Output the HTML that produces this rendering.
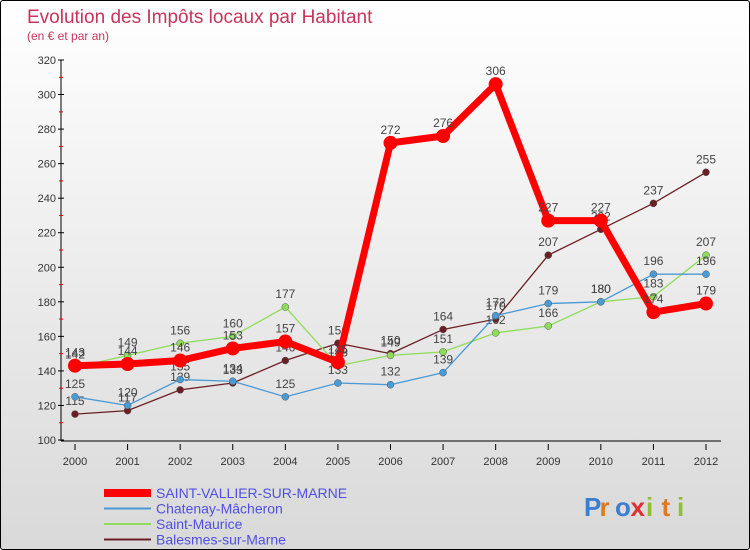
<!DOCTYPE html>
<html><head><meta charset="utf-8"><style>
body{margin:0}
#c{width:748px;height:548px;border:1px solid #000;position:relative;background:linear-gradient(#fff,#d9d9d9);font-family:"Liberation Sans",sans-serif;overflow:hidden;border-radius:3px}
</style></head><body>
<div id="c">
<svg id="s" width="748" height="548"></svg>
</div>
<script>
const years=[2000,2001,2002,2003,2004,2005,2006,2007,2008,2009,2010,2011,2012];
const saintVallier=[143,144,146,153,157,145,272,276,306,227,227,174,179];
const chatenay=[125,120,135,134,125,133,132,139,172,179,180,196,196];
const saintMaurice=[142,149,156,160,177,143,149,151,162,166,180,183,207];
const balesmes=[115,117,129,133,146,156,150,164,170,207,222,237,255];
const yTicks=[100,120,140,160,180,200,220,240,260,280,300,320];
const NS="http://www.w3.org/2000/svg";
const s=document.getElementById('s');
const X=i=>74+i*(705-74)/12;
const Y=v=>439-(v-100)*(380/220);
function el(t,a,p){const e=document.createElementNS(NS,t);for(const k in a)e.setAttribute(k,a[k]);(p||s).appendChild(e);return e;}
function tx(x,y,str,a){const e=el('text',Object.assign({x:x,y:y},a));e.textContent=str;return e;}
let t=tx(26,22,'Evolution des Impôts locaux par Habitant',{fill:'#c8345a','font-size':19});

t=tx(26,39,'(en € et par an)',{fill:'#c8345a','font-size':12});

let ax=el('line',{x1:60,y1:59,x2:60,y2:440,stroke:'#000'});

ax=el('line',{x1:60,y1:440,x2:720,y2:440,stroke:'#000'});

yTicks.forEach(v=>{el('line',{x1:57,x2:63,y1:Y(v),y2:Y(v),stroke:'#000'});
 if(v<320)el('line',{x1:58,x2:62,y1:Y(v+10),y2:Y(v+10),stroke:'#e00'});
 const l=tx(55,Y(v)+4,v,{'text-anchor':'end','font-size':11,fill:'#333'});
 });
years.forEach((y,i)=>{el('line',{x1:X(i),x2:X(i),y1:443,y2:449,stroke:'#000'});
 const l=tx(X(i),464,y,{'text-anchor':'middle','font-size':11,fill:'#333'});
 });
const series=[
 {n:'balesmes',d:balesmes,c:'#6b1f24',w:1.3,r:3.5,lab:'Balesmes-sur-Marne'},
 {n:'saint-maurice',d:saintMaurice,c:'#8fdc5a',w:1.3,r:3.5,lab:'Saint-Maurice'},
 {n:'chatenay',d:chatenay,c:'#4a9ad6',w:1.3,r:3.5,lab:'Chatenay-Mâcheron'},
 {n:'saint-vallier',d:saintVallier,c:'#f00',w:7,r:7,lab:'SAINT-VALLIER-SUR-MARNE'}];
series.forEach(sr=>{
 const g=el('g',{});
 const p=el('polyline',{points:sr.d.map((v,i)=>X(i)+','+Y(v)).join(' '),fill:'none',stroke:sr.c,'stroke-width':sr.w},g);
 
 sr.d.forEach((v,i)=>{const c=el('circle',{cx:X(i),cy:Y(v),r:sr.r,fill:sr.c,stroke:sr.w>2?'none':'#555','stroke-width':0.5},g);
  
  const l=tx(X(i),Y(v)-9,v,{'text-anchor':'middle','font-size':12,fill:'#444'},g);
  });
});
const leg=[...series].reverse();
leg.forEach((sr,i)=>{const y=492+i*15.5;
 const g=el('g',{});
 el('line',{x1:103,x2:150,y1:y,y2:y,stroke:sr.c,'stroke-width':sr.w>2?8:2},g);
 tx(155,y+5,sr.lab,{'font-size':14,fill:'#5050e0'},g);});
const lg=el('g',{});
const cols=['#3a7fd0','#e07820','#3a7fd0','#e03030','#90c030','#e07820','#90c030'];
'Proxiti'.split('').forEach((ch,i)=>tx(583+i*15.5,515,ch,{'font-size':26,'font-weight':'bold',fill:cols[i]},lg));
</script>
</body></html>
